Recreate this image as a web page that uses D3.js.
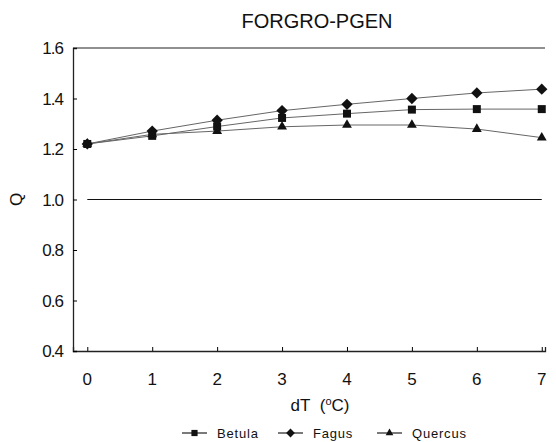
<!DOCTYPE html>
<html>
<head>
<meta charset="utf-8">
<script src="https://cdn.jsdelivr.net/npm/d3@7"></script>
<style>
  body { margin: 0; background: #fff; }
  text { font-family: "Liberation Sans", Arial, sans-serif; fill: #111; }
</style>
</head>
<body>
<div id="chart"></div>
<script>
const dT = [0, 1, 2, 3, 4, 5, 6, 7];
const betula  = [1.22, 1.252, 1.289, 1.323, 1.34, 1.356, 1.358, 1.358];
const fagus   = [1.22, 1.271, 1.314, 1.352, 1.377, 1.40, 1.422, 1.437];
const quercus = [1.22, 1.258, 1.271, 1.288, 1.295, 1.295, 1.279, 1.245];
const yTicks = [0.4, 0.6, 0.8, 1.0, 1.2, 1.4, 1.6];
const seriesNames = ["Betula", "Fagus", "Quercus"];

const width = 556, height = 442;
const margin = {top: 48, right: 11, bottom: 91, left: 73};

const svg = d3.select("#chart").append("svg")
  .attr("width", width).attr("height", height);

const x = d3.scaleLinear().domain([-0.22, 7.05]).range([margin.left, width - margin.right]);
const y = d3.scaleLinear().domain([0.4, 1.6]).range([height - margin.bottom, margin.top]);

// title
svg.append("text")
  .attr("x", 317).attr("y", 28)
  .attr("text-anchor", "middle")
  .style("font-size", "20px")
  .text("FORGRO-PGEN");

// x axis
svg.append("g")
  .attr("transform", `translate(0, ${y(0.4)})`)
  .call(d3.axisTop(x).tickValues(dT).tickSize(4).tickFormat(""))
  .call(g => g.select(".domain").attr("stroke", "#222").attr("stroke-width", 1.3));

svg.append("g")
  .selectAll("text")
  .data(dT)
  .join("text")
    .attr("x", d => x(d))
    .attr("y", 385)
    .attr("text-anchor", "middle")
    .style("font-size", "17px")
    .text(d => d);

// y axis
svg.append("g")
  .attr("transform", `translate(${margin.left}, 0)`)
  .call(d3.axisRight(y).tickValues(yTicks).tickSize(4).tickFormat(""))
  .call(g => g.select(".domain").attr("stroke", "#222").attr("stroke-width", 1.3));

svg.append("g")
  .selectAll("text")
  .data(yTicks)
  .join("text")
    .attr("x", margin.left - 10)
    .attr("y", d => y(d) + 6)
    .attr("text-anchor", "end")
    .style("font-size", "17px")
    .style("letter-spacing", "-1px")
    .text(d => d.toFixed(1));

// top border
svg.append("line")
  .attr("x1", margin.left).attr("x2", x(7.05))
  .attr("y1", y(1.6)).attr("y2", y(1.6))
  .attr("stroke", "#222").attr("stroke-width", 1.2);

// reference line at 1.0
svg.append("line")
  .attr("x1", x(0)).attr("x2", x(7))
  .attr("y1", y(1.0)).attr("y2", y(1.0))
  .attr("stroke", "#111").attr("stroke-width", 1.2);

// axis labels
svg.append("text")
  .attr("transform", `translate(22, ${y(1.0)}) rotate(-90)`)
  .attr("text-anchor", "middle")
  .style("font-size", "17px")
  .text("Q");

const xl = svg.append("text")
  .attr("x", 320).attr("y", 411)
  .attr("text-anchor", "middle")
  .style("font-size", "17px");
xl.append("tspan").text("dT\u00a0\u00a0(");
xl.append("tspan").attr("dy", -6).style("font-size", "11px").text("o");
xl.append("tspan").attr("dy", 6).text("C)");

// series
const series = [
  {name: "Betula", values: betula, symbol: d3.symbolSquare, size: 64, rot: 0},
  {name: "Fagus", values: fagus, symbol: d3.symbolSquare, size: 64, rot: 45},
  {name: "Quercus", values: quercus, symbol: d3.symbolTriangle, size: 42, rot: 0}
];

const line = d3.line().x((d, i) => x(dT[i])).y(d => y(d));

series.forEach(s => {
  svg.append("path")
    .datum(s.values)
    .attr("fill", "none")
    .attr("stroke", "#666")
    .attr("stroke-width", 1)
    .attr("d", line);
});

series.forEach(s => {
  svg.append("g")
    .selectAll("path")
    .data(s.values)
    .join("path")
      .attr("transform", (d, i) => `translate(${x(dT[i])}, ${y(d)}) rotate(${s.rot})`)
      .attr("d", d3.symbol(s.symbol, s.size))
      .attr("fill", "#111");
});

// legend
const legendX = [182, 278, 377];
const legend = svg.append("g");
series.forEach((s, i) => {
  const g = legend.append("g").attr("transform", `translate(${legendX[i]}, 433)`);
  g.append("line").attr("x1", 0).attr("x2", 25).attr("stroke", "#222").attr("stroke-width", 1.2);
  g.append("path").attr("transform", `translate(12.5,0) rotate(${s.rot})`)
    .attr("d", d3.symbol(s.symbol, s.size * 0.6)).attr("fill", "#111");
  g.append("text").attr("x", 35).attr("y", 5)
    .style("font-size", "13px").style("letter-spacing", "0.8px")
    .text(seriesNames[i]);
});
</script>
</body>
</html>
